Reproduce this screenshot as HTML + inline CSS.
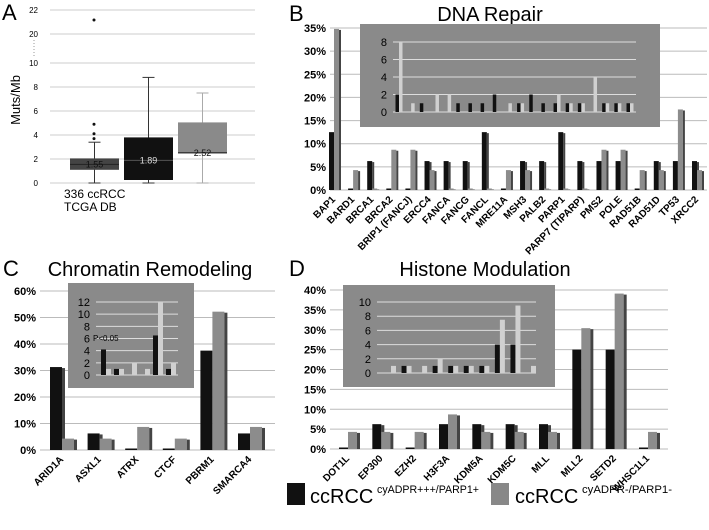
<!DOCTYPE html>
<html><head><meta charset="utf-8"><style>
body{margin:0;background:#fff}
svg{display:block;font-family:"Liberation Sans",Arial,sans-serif}
</style></head><body>
<svg id="fig" width="709" height="530" viewBox="0 0 709 530" xmlns="http://www.w3.org/2000/svg">
<g id="pA"></g>
<g id="pB"></g>
<g id="pC"></g>
<g id="pD"></g>
<g>
 <rect x="287" y="483" width="18" height="22" fill="#111"/>
 <text x="310" y="503" font-size="20">ccRCC</text>
 <text x="377" y="493" font-size="11" textLength="102" lengthAdjust="spacingAndGlyphs">cyADPR+++/PARP1+</text>
 <rect x="491" y="483" width="18" height="22" fill="#888"/>
 <text x="515" y="503" font-size="20">ccRCC</text>
 <text x="582" y="493" font-size="11" textLength="90" lengthAdjust="spacingAndGlyphs">cyADPR-/PARP1-</text>
</g>
</svg>
<script>
// Panel B data
const bCats=["BAP1","BARD1","BRCA1","BRCA2","BRIP1 (FANCJ)","ERCC4","FANCA","FANCG","FANCL","MRE11A","MSH3","PALB2","PARP1","PARP7 (TIPARP)","PMS2","POLE","RAD51B","RAD51D","TP53","XRCC2"];
const bBlack=[12.5,0,6.25,0,0,6.25,6.25,6.25,12.5,0,6.25,6.25,12.5,6.25,6.25,6.25,0,6.25,6.25,6.25];
const bGray=[34.8,4.3,0,8.7,8.7,4.3,0,0,0,4.3,4.3,0,0,0,8.7,8.7,4.3,4.3,17.4,4.3];
const bTicks=[0,5,10,15,20,25,30,35];
const bInBlack=[2,0,1,0,0,1,1,1,2,0,1,2,1,1,1,1,0,1,1,1];
const bInGray=[8,1,0,2,2,0,0,0,0,1,1,0,0,2,1,1,4,1,1,1];
const bInTicks=[0,2,4,6,8];
// Panel C data
const cCats=["ARID1A","ASXL1","ATRX","CTCF","PBRM1","SMARCA4"];
const cBlack=[31.3,6.25,0,0,37.5,6.25];
const cGray=[4.3,4.3,8.7,4.3,52.2,8.7];
const cTicks=[0,10,20,30,40,50,60];
const cInBlack=[4.2,1,0,0,6.5,1];
const cInGray=[1,1,2,1,12,2];
const cInTicks=[0,2,4,6,8,10,12];
// Panel D data
const dCats=["DOT1L","EP300","EZH2","H3F3A","KDM5A","KDM5C","MLL","MLL2","SETD2","WHSC1L1"];
const dBlack=[0,6.25,0,6.25,6.25,6.25,6.25,25,25,0];
const dGray=[4.3,4.3,4.3,8.7,4.3,4.3,4.3,30.4,39.1,4.3];
const dTicks=[0,5,10,15,20,25,30,35,40];
const dInBlack=[0,1,0,1,1,1,1,4,4,0];
const dInGray=[1,1,1,2,1,1,1,7.5,9.5,1];
const dInTicks=[0,2,4,6,8,10];
// Panel A data
const aTicks=[0,2,4,6,8,10];
const aBoxes=[{q1:1.1,med:1.55,q3:2.05,lo:0,hi:3.4,label:"1.55",fill:"#444"},{q1:0.25,med:1.89,q3:3.8,lo:0,hi:8.8,label:"1.89",fill:"#111"},{q1:2.45,med:2.52,q3:5.05,lo:0,hi:7.5,label:"2.52",fill:"#8a8a8a"}];
const aOutliers=[3.7,4.1,4.9];

const NS="http://www.w3.org/2000/svg";
function mk(parent,tag,attrs,name){const e=document.createElementNS(NS,tag);for(const k in attrs)e.setAttribute(k,attrs[k]);


parent.appendChild(e);return e;}
function txt(parent,x,y,s,size,name,extra){const t=mk(parent,'text',Object.assign({x:x,y:y,'font-size':size},extra||{}),name);t.textContent=s;return t;}

function barPanel(g,o){
 const y=v=>o.y0-(v/o.max)*(o.y0-o.yTop);
 o.ticks.forEach(t=>{mk(g,'line',{x1:o.gx0,x2:o.gx1,y1:y(t),y2:y(t),stroke:'#bbb','stroke-width':1},'gridline');
  txt(g,o.gx0-4,y(t)+4,t+'%',11,'y-tick-label',{'text-anchor':'end','font-weight':'bold'});});
 const step=(o.cx1-o.cx0)/(o.cats.length-1);
 o.cats.forEach((c,i)=>{const cx=o.cx0+i*step;
  [[o.black[i],'#111',-o.bw],[o.gray[i],'#8c8c8c',0]].forEach(([v,f,off],k)=>{
   const h=Math.max(1.5,o.y0-y(v));const x=cx+off;
   mk(g,'rect',{x:x,y:o.y0-h,width:o.bw,height:h,fill:f},k?'bar-gray':'bar-black');
   mk(g,'rect',{x:x+o.bw,y:o.y0-h+1,width:o.sd,height:h-1,fill:'#444'},'bar-side');});
  txt(g,cx+2,o.y0+10,c,10,'x-tick-label',{'text-anchor':'end','font-weight':'bold',transform:`rotate(-45 ${cx+2} ${o.y0+10})`});});
 const I=o.inset;mk(g,'rect',{x:I.x,y:I.y,width:I.w,height:I.h,fill:'#8a8a8a'},'inset-background');
 const iy=v=>I.y0-(v/I.max)*(I.y0-I.yTop);
 I.ticks.forEach(t=>{mk(g,'line',{x1:I.gx0,x2:I.gx1,y1:iy(t),y2:iy(t),stroke:'#ddd','stroke-width':1},'inset-gridline');
  txt(g,I.gx0-6,iy(t)+4,String(t),11,'inset-tick-label',{'text-anchor':'end'});});
 const is=(I.cx1-I.cx0)/(o.cats.length-1);
 o.cats.forEach((c,i)=>{const cx=I.cx0+i*is;
  [[I.black[i],'#111',-I.bw],[I.gray[i],'#d0d0d0',0]].forEach(([v,f,off],k)=>{if(v<=0)return;
   const h=I.y0-iy(v);mk(g,'rect',{x:cx+off,y:I.y0-h,width:I.bw,height:h,fill:f},k?'inset-bar-gray':'inset-bar-black');});});
}

// Panel B
const gB=document.getElementById('pB');
txt(gB,289,21,'B',22,'panel-letter');
txt(gB,490,21,'DNA Repair',20,'panel-title',{'text-anchor':'middle'});
barPanel(gB,{cats:bCats,black:bBlack,gray:bGray,ticks:bTicks,max:35,y0:190,yTop:28,gx0:330,gx1:707,cx0:334,cx1:697,bw:5,sd:2,
 inset:{x:360,y:24,w:300,h:103,y0:112,yTop:42,max:8,ticks:bInTicks,gx0:393,gx1:636,cx0:399,cx1:630,bw:3.5,black:bInBlack,gray:bInGray}});
// Panel C
const gC=document.getElementById('pC');
txt(gC,3,276,'C',22,'panel-letter');
txt(gC,150,276,'Chromatin Remodeling',20,'panel-title',{'text-anchor':'middle'});
barPanel(gC,{cats:cCats,black:cBlack,gray:cGray,ticks:cTicks,max:60,y0:450,yTop:291,gx0:40,gx1:275,cx0:62,cx1:250,bw:12,sd:3,
 inset:{x:68,y:283,w:126,h:105,y0:375,yTop:302,max:12,ticks:cInTicks,gx0:96,gx1:178,cx0:106,cx1:171,bw:5,black:cInBlack,gray:cInGray}});
txt(gC,93,341,'P<0.05',8,'p-value-annotation');
// Panel D
const gD=document.getElementById('pD');
txt(gD,289,276,'D',22,'panel-letter');
txt(gD,485,276,'Histone Modulation',20,'panel-title',{'text-anchor':'middle'});
barPanel(gD,{cats:dCats,black:dBlack,gray:dGray,ticks:dTicks,max:40,y0:449,yTop:290,gx0:330,gx1:668,cx0:348,cx1:648,bw:9,sd:3,
 inset:{x:343,y:285,w:212,h:102,y0:373,yTop:302,max:10,ticks:dInTicks,gx0:377,gx1:536,cx0:391,cx1:531,bw:5,black:dInBlack,gray:dInGray}});

// Panel A
const gA=document.getElementById('pA');
txt(gA,2,20,'A',22,'panel-letter');
const ay=v=>183-v*12;
aTicks.forEach(t=>{mk(gA,'line',{x1:50,x2:255,y1:ay(t),y2:ay(t),stroke:'#ccc'},'gridline');
 txt(gA,38,ay(t)+3,String(t),8,'y-tick-label',{'text-anchor':'end'});});
[[20,34],[22,10]].forEach(([t,yy])=>{mk(gA,'line',{x1:50,x2:255,y1:yy,y2:yy,stroke:'#ccc'},'gridline');
 txt(gA,38,yy+3,String(t),8,'y-tick-label',{'text-anchor':'end'});});
mk(gA,'line',{x1:34,x2:34,y1:40,y2:58,stroke:'#999','stroke-dasharray':'1,2'},'axis-break');
txt(gA,20,100,'Muts/Mb',13,'y-axis-title',{'text-anchor':'middle',transform:'rotate(-90 20 100)'});
const bxs=[70,124,178],bw=49;
aBoxes.forEach((b,i)=>{const x=bxs[i],cx=x+bw/2;const wc=i==2?'#aaa':'#333';
 mk(gA,'line',{x1:cx,x2:cx,y1:ay(b.lo),y2:ay(b.hi),stroke:wc},'whisker');
 mk(gA,'line',{x1:cx-6,x2:cx+6,y1:ay(b.hi),y2:ay(b.hi),stroke:wc},'whisker-cap');
 mk(gA,'line',{x1:cx-6,x2:cx+6,y1:ay(b.lo),y2:ay(b.lo),stroke:wc},'whisker-cap');
 mk(gA,'rect',{x:x,y:ay(b.q3),width:bw,height:ay(b.q1)-ay(b.q3),fill:b.fill},'box');
 mk(gA,'line',{x1:x,x2:x+bw,y1:ay(b.med),y2:ay(b.med),stroke:i==1?'#555':'#222'},'median-line');
 txt(gA,cx,ay(b.med)+3,b.label,9,'median-label',{'text-anchor':'middle',fill:i==1?'#ddd':'#111'});});
aOutliers.forEach(v=>mk(gA,'circle',{cx:94,cy:ay(v),r:1.5,fill:'#111'},'outlier'));
mk(gA,'circle',{cx:94,cy:20,r:1.5,fill:'#111'},'outlier');
txt(gA,64,198,'336 ccRCC',12,'x-label');
txt(gA,64,211,'TCGA DB',12,'x-label');
</script>
</body></html>
